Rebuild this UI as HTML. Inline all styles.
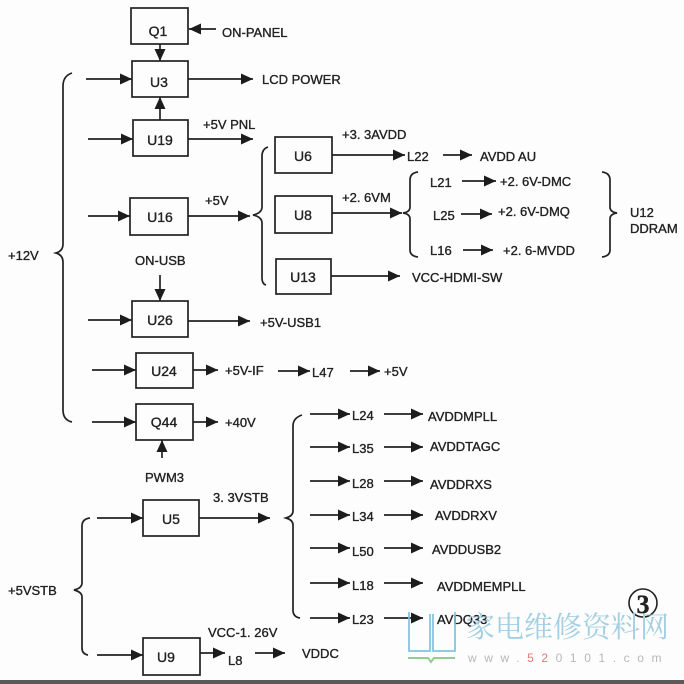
<!DOCTYPE html>
<html><head><meta charset="utf-8"><style>
html,body{margin:0;padding:0;background:#fdfdfd;}
svg{display:block;}
text{font-family:"Liberation Sans",sans-serif;fill:#222;font-size:13px;stroke:#222;stroke-width:0.35px;}
.b{font-size:14px;}
.wm{stroke:none;}
</style></head><body>
<svg width="684" height="684" viewBox="0 0 684 684" xmlns="http://www.w3.org/2000/svg">
<defs>
<marker id="a" viewBox="0 0 12 11" refX="12" refY="5.5" markerWidth="12" markerHeight="11" markerUnits="userSpaceOnUse" orient="auto"><path d="M0,0 L12,5.5 L0,11 z" fill="#1c1c1c"/></marker>
</defs>
<rect x="0" y="0" width="684" height="684" fill="#fdfdfd"/>
<g stroke="#222" stroke-width="1.7" fill="none">
<rect x="131" y="8" width="57" height="36"/>
<rect x="132" y="61" width="56" height="36"/>
<rect x="133" y="120" width="55" height="36"/>
<rect x="130" y="198" width="58" height="37"/>
<rect x="275" y="137" width="57" height="36"/>
<rect x="275" y="196" width="57" height="37"/>
<rect x="276" y="259" width="55" height="35"/>
<rect x="132" y="301" width="56" height="36"/>
<rect x="136" y="353" width="57" height="35"/>
<rect x="136" y="404" width="57" height="36"/>
<rect x="143" y="500" width="56" height="36"/>
<rect x="143" y="638" width="57" height="37"/>
<path d="M72,73 Q63,76 63,86 L63,244 Q63,251 56,253 Q63,255 63,262 L63,410 Q63,420 72,422"/>
<path d="M268,147 Q262,149 262,156 L262,207 Q262,213 253,215 Q262,217 262,223 L262,278 Q262,284 266,285"/>
<path d="M418,172 Q410,173 410,180 L410,207 Q410,212 403,213 Q410,214 410,219 L410,250 Q410,256 418,257"/>
<path d="M602,172 Q610,173 610,180 L610,207 Q610,212 617,213 Q610,214 610,219 L610,250 Q610,256 602,257"/>
<path d="M302,415 Q293,418 293,426 L293,511 Q293,516 286,518 Q293,520 293,525 L293,610 Q293,617 300,618"/>
<path d="M90,518 Q82,519 82,526 L82,583 Q82,588 74,590 Q82,592 82,597 L82,648 Q82,654 88,655"/>
</g>
<g stroke="#222" stroke-width="1.7" fill="none" marker-end="url(#a)">
<line x1="216" y1="29" x2="189" y2="29"/>
<line x1="160" y1="44" x2="160" y2="61"/>
<line x1="86" y1="79" x2="132" y2="79"/>
<line x1="188" y1="79" x2="253" y2="79"/>
<line x1="160" y1="120" x2="160" y2="97"/>
<line x1="88" y1="139" x2="133" y2="139"/>
<line x1="188" y1="139" x2="253" y2="139"/>
<line x1="88" y1="216" x2="130" y2="216"/>
<line x1="188" y1="216" x2="250" y2="216"/>
<line x1="332" y1="155" x2="405" y2="155"/>
<line x1="443" y1="155" x2="472" y2="155"/>
<line x1="332" y1="213" x2="402" y2="213"/>
<line x1="462" y1="181" x2="496" y2="181"/>
<line x1="461" y1="214" x2="492" y2="214"/>
<line x1="463" y1="250" x2="493" y2="250"/>
<line x1="331" y1="276" x2="400" y2="276"/>
<line x1="160" y1="275" x2="160" y2="301"/>
<line x1="88" y1="320" x2="132" y2="320"/>
<line x1="188" y1="321" x2="250" y2="321"/>
<line x1="92" y1="370" x2="136" y2="370"/>
<line x1="193" y1="370" x2="218" y2="370"/>
<line x1="278" y1="371" x2="310" y2="371"/>
<line x1="350" y1="371" x2="380" y2="371"/>
<line x1="92" y1="422" x2="136" y2="422"/>
<line x1="193" y1="422" x2="218" y2="422"/>
<line x1="162" y1="458" x2="162" y2="440"/>
<line x1="97" y1="518" x2="143" y2="518"/>
<line x1="199" y1="518" x2="270" y2="518"/>
<line x1="97" y1="655" x2="143" y2="655"/>
<line x1="200" y1="653" x2="225" y2="653"/>
<line x1="255" y1="653" x2="285" y2="653"/>
<line x1="310" y1="414" x2="350" y2="414"/>
<line x1="384" y1="414" x2="423" y2="414"/>
<line x1="310" y1="447" x2="350" y2="447"/>
<line x1="384" y1="447" x2="423" y2="447"/>
<line x1="310" y1="481" x2="350" y2="481"/>
<line x1="384" y1="481" x2="423" y2="481"/>
<line x1="310" y1="515" x2="350" y2="515"/>
<line x1="384" y1="515" x2="423" y2="515"/>
<line x1="310" y1="548" x2="350" y2="548"/>
<line x1="384" y1="548" x2="423" y2="548"/>
<line x1="310" y1="583" x2="350" y2="583"/>
<line x1="384" y1="583" x2="423" y2="583"/>
<line x1="310" y1="618" x2="350" y2="618"/>
<line x1="384" y1="618" x2="423" y2="618"/>
</g>
<g text-anchor="middle">
<text class="b" x="158" y="36">Q1</text>
<text class="b" x="159" y="87">U3</text>
<text class="b" x="160" y="145">U19</text>
<text class="b" x="160" y="222">U16</text>
<text class="b" x="303" y="161">U6</text>
<text class="b" x="303" y="220">U8</text>
<text class="b" x="303" y="282">U13</text>
<text class="b" x="160" y="325">U26</text>
<text class="b" x="164" y="376">U24</text>
<text class="b" x="164" y="427">Q44</text>
<text class="b" x="171" y="524">U5</text>
<text class="b" x="166" y="662">U9</text>
</g>
<text x="222" y="37">ON-PANEL</text>
<text x="262" y="84">LCD POWER</text>
<text x="203" y="129">+5V PNL</text>
<text x="205" y="205">+5V</text>
<text x="342" y="139">+3. 3AVDD</text>
<text x="407" y="161">L22</text>
<text x="480" y="161">AVDD AU</text>
<text x="342" y="202">+2. 6VM</text>
<text x="430" y="187">L21</text>
<text x="500" y="186">+2. 6V-DMC</text>
<text x="433" y="220">L25</text>
<text x="498" y="216">+2. 6V-DMQ</text>
<text x="430" y="255">L16</text>
<text x="503" y="255">+2. 6-MVDD</text>
<text x="630" y="217">U12</text>
<text x="630" y="233">DDRAM</text>
<text x="412" y="282">VCC-HDMI-SW</text>
<text x="8" y="260">+12V</text>
<text x="135" y="265">ON-USB</text>
<text x="260" y="327">+5V-USB1</text>
<text x="225" y="375">+5V-IF</text>
<text x="312" y="377">L47</text>
<text x="384" y="376">+5V</text>
<text x="225" y="427">+40V</text>
<text x="145" y="482">PWM3</text>
<text x="213" y="502">3. 3VSTB</text>
<text x="8" y="595">+5VSTB</text>
<text x="208" y="637">VCC-1. 26V</text>
<text x="228" y="665">L8</text>
<text x="302" y="658">VDDC</text>
<text x="352" y="420">L24</text>
<text x="428" y="421">AVDDMPLL</text>
<text x="352" y="453">L35</text>
<text x="430" y="451">AVDDTAGC</text>
<text x="352" y="488">L28</text>
<text x="430" y="489">AVDDRXS</text>
<text x="352" y="521">L34</text>
<text x="435" y="520">AVDDRXV</text>
<text x="352" y="556">L50</text>
<text x="432" y="554">AVDDUSB2</text>
<text x="352" y="590">L18</text>
<text x="437" y="591">AVDDMEMPLL</text>
<text x="352" y="624">L23</text>
<text x="437" y="624">AVDQ33</text>
<circle cx="643" cy="603" r="14" fill="none" stroke="#222" stroke-width="1.6"/>
<text x="643" y="613" text-anchor="middle" style="font-family:'Liberation Serif',serif;font-size:26px;font-weight:bold">3</text>
<g fill="none" stroke="#7fc3df" stroke-width="2" opacity="0.85">
<path d="M409,612 L409,651 L430,651 L430,614"/>
<path d="M433,614 L433,651 L455,651 L455,612"/>
</g>
<path d="M408,658 L428,658 L431,662 L434,658 L455,658" stroke="#8fd08f" stroke-width="2" fill="none"/>
<text class="wm" x="466" y="637" style="font-family:'Liberation Sans','Noto Serif CJK SC',serif;font-size:29px;fill:#a3cfe3;">家电维修资料网</text>
<text class="wm" x="468" y="662" style="font-size:12px;fill:#b8b8b8;letter-spacing:7.6px">www.<tspan style="fill:#e27a7a">52</tspan>0101.com</text>
<rect x="0" y="680" width="684" height="4" fill="#5a5a5a"/>
</svg>
</body></html>
